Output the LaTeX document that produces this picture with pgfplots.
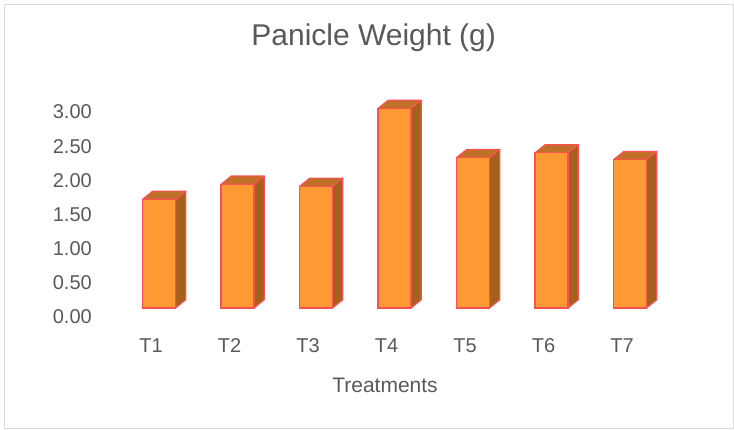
\documentclass[border=0pt]{standalone}
\usepackage{pgfplots}
\pgfplotsset{compat=1.18}
\usepackage{pgfplotstable}
\usepackage{fontspec}
\setmainfont{Liberation Sans}
\definecolor{txt}{RGB}{89,89,89}
\definecolor{frontc}{RGB}{255,153,51}
\definecolor{topc}{RGB}{192,112,40}
\definecolor{sidec}{RGB}{166,96,30}
\definecolor{edgec}{RGB}{250,82,82}
\definecolor{framec}{RGB}{217,217,217}
\pgfplotstableread{
x y
0 1.59
1 1.81
2 1.78
3 2.92
4 2.20
5 2.27
6 2.17
}\data
\begin{document}
\begin{tikzpicture}[x=1bp,y=1bp]
\path[use as bounding box] (0,0) rectangle (734,429);
\draw[framec, line width=1bp] (4.5,0.7) rectangle (733.5,424.5);
\begin{axis}[
  at={(119.75bp,121bp)}, anchor=south west,
  scale only axis, width=549.5bp, height=218.7bp,
  xmin=-0.5, xmax=6.5, ymin=0, ymax=3.2,
  clip=false,
  axis line style={draw=none},
  major tick length=0pt,
  tick style={draw=none},
  xtick={0,1,2,3,4,5,6},
  xticklabels={T1,T2,T3,T4,T5,T6,T7},
  ytick={0,0.5,1,1.5,2,2.5,3},
  scaled y ticks=false,
  tick label style={font=\fontsize{20bp}{24bp}\selectfont, text=txt, inner sep=0pt},
  yticklabel style={anchor=east, xshift=-27.75bp, yshift=-9bp,
    /pgf/number format/fixed, /pgf/number format/fixed zerofill,
    /pgf/number format/precision=2, /pgf/number format/assume math mode=true},
  xticklabel style={anchor=center, xshift=-8bp, yshift=-38bp},
  xlabel={Treatments},
  xlabel style={at={(rel axis cs:0.4827,0)}, anchor=center, yshift=-77.5bp, font=\fontsize{21bp}{25bp}\selectfont, text=txt, inner sep=0pt},
  title={Panicle Weight (g)},
  title style={at={(rel axis cs:0.4621,1)}, anchor=base, yshift=38.3bp, font=\fontsize{30bp}{36bp}\selectfont, text=txt, inner sep=0pt},
]
% side faces
\addplot[fill=sidec, draw=edgec, line width=1.2bp, line join=round] coordinates {(0.21,0)(0.34,0.12)(0.34,1.71)(0.21,1.59)} -- cycle;
\addplot[fill=sidec, draw=edgec, line width=1.2bp, line join=round] coordinates {(1.21,0)(1.34,0.12)(1.34,1.93)(1.21,1.81)} -- cycle;
\addplot[fill=sidec, draw=edgec, line width=1.2bp, line join=round] coordinates {(2.21,0)(2.34,0.12)(2.34,1.90)(2.21,1.78)} -- cycle;
\addplot[fill=sidec, draw=edgec, line width=1.2bp, line join=round] coordinates {(3.21,0)(3.34,0.12)(3.34,3.04)(3.21,2.92)} -- cycle;
\addplot[fill=sidec, draw=edgec, line width=1.2bp, line join=round] coordinates {(4.21,0)(4.34,0.12)(4.34,2.32)(4.21,2.20)} -- cycle;
\addplot[fill=sidec, draw=edgec, line width=1.2bp, line join=round] coordinates {(5.21,0)(5.34,0.12)(5.34,2.39)(5.21,2.27)} -- cycle;
\addplot[fill=sidec, draw=edgec, line width=1.2bp, line join=round] coordinates {(6.21,0)(6.34,0.12)(6.34,2.29)(6.21,2.17)} -- cycle;
% top faces
\addplot[fill=topc, draw=edgec, line width=1.2bp, line join=round] coordinates {(-0.21,1.59)(0.21,1.59)(0.34,1.71)(-0.08,1.71)} -- cycle;
\addplot[fill=topc, draw=edgec, line width=1.2bp, line join=round] coordinates {(0.79,1.81)(1.21,1.81)(1.34,1.93)(0.92,1.93)} -- cycle;
\addplot[fill=topc, draw=edgec, line width=1.2bp, line join=round] coordinates {(1.79,1.78)(2.21,1.78)(2.34,1.90)(1.92,1.90)} -- cycle;
\addplot[fill=topc, draw=edgec, line width=1.2bp, line join=round] coordinates {(2.79,2.92)(3.21,2.92)(3.34,3.04)(2.92,3.04)} -- cycle;
\addplot[fill=topc, draw=edgec, line width=1.2bp, line join=round] coordinates {(3.79,2.20)(4.21,2.20)(4.34,2.32)(3.92,2.32)} -- cycle;
\addplot[fill=topc, draw=edgec, line width=1.2bp, line join=round] coordinates {(4.79,2.27)(5.21,2.27)(5.34,2.39)(4.92,2.39)} -- cycle;
\addplot[fill=topc, draw=edgec, line width=1.2bp, line join=round] coordinates {(5.79,2.17)(6.21,2.17)(6.34,2.29)(5.92,2.29)} -- cycle;
% front faces
\addplot[ybar, bar width=0.42, fill=frontc, draw=edgec, line width=1.2bp] table[x=x, y=y] {\data};
\end{axis}
\end{tikzpicture}
\end{document}
